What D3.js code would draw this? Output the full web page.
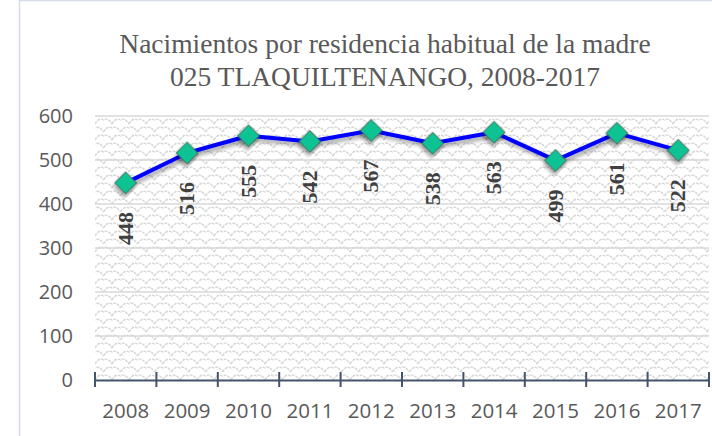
<!DOCTYPE html>
<html>
<head>
<meta charset="utf-8">
<script src="https://cdn.jsdelivr.net/npm/d3@7"></script>
<style>
  body { margin: 0; background: #fff; }
  svg { display: block; }
</style>
</head>
<body>
<svg id="chart"></svg>
<script>
const width = 712;
const height = 436;

// data
const years = ["2008", "2009", "2010", "2011", "2012", "2013", "2014", "2015", "2016", "2017"];
const births = [448, 516, 555, 542, 567, 538, 563, 499, 561, 522];
const yTicks = [0, 100, 200, 300, 400, 500, 600];
const titleLines = ["Nacimientos por residencia habitual de la madre", "025 TLAQUILTENANGO, 2008-2017"];

const plot = { left: 95, right: 709, top: 116, bottom: 380 };

const svg = d3.select("#chart")
  .attr("width", width)
  .attr("height", height)
  .attr("viewBox", [0, 0, width, height]);

const defs = svg.append("defs");

// scalloped background pattern
const pat = defs.append("pattern")
  .attr("id", "waves")
  .attr("patternUnits", "userSpaceOnUse")
  .attr("x", plot.left).attr("y", plot.top)
  .attr("width", 17)
  .attr("height", 16);
pat.append("path")
  .attr("d", "M0,8 Q4,1 8.5,4 Q13,1 17,8 M-8.5,16 Q-4,9 0,12 Q4,9 8.5,16 M8.5,16 Q13,9 17,12 Q21,9 25.5,16")
  .attr("fill", "none")
  .attr("stroke", "#d4d4d4")
  .attr("stroke-width", 1.4)
  .attr("stroke-dasharray", "3,1");

const shadow = defs.append("filter")
  .attr("id", "shadow")
  .attr("x", "-20%").attr("y", "-20%")
  .attr("width", "140%").attr("height", "160%");
shadow.append("feDropShadow")
  .attr("dx", 2).attr("dy", 3)
  .attr("stdDeviation", 2)
  .attr("flood-color", "#000")
  .attr("flood-opacity", 0.4);

// chart frame
svg.append("rect")
  .attr("x", 19.5).attr("y", 0.5)
  .attr("width", 800).attr("height", 600)
  .attr("fill", "#fff")
  .attr("stroke", "#d6dce5")
  .attr("stroke-width", 1.5);

// scales
const x = d3.scaleBand()
  .domain(years)
  .range([plot.left, plot.right]);

const y = d3.scaleLinear()
  .domain([0, 600])
  .range([plot.bottom, plot.top]);

// plot area background
svg.append("rect")
  .attr("x", plot.left)
  .attr("y", plot.top)
  .attr("width", plot.right - plot.left)
  .attr("height", plot.bottom - plot.top)
  .attr("fill", "url(#waves)");

// gridlines
svg.append("g")
  .selectAll("line")
  .data(yTicks.filter(d => d > 0))
  .join("line")
  .attr("x1", plot.left)
  .attr("x2", plot.right)
  .attr("y1", d => y(d))
  .attr("y2", d => y(d))
  .attr("stroke", "#d9d9d9")
  .attr("stroke-width", 1.5);

// y axis labels
const yAxis = svg.append("g")
  .attr("transform", `translate(${plot.left},0)`)
  .call(d3.axisLeft(y).tickValues(yTicks).tickSize(0).tickPadding(22));
yAxis.select(".domain").remove();
yAxis.selectAll("text")
  .attr("fill", "#595959")
  .style("font-family", "'Open Sans', sans-serif")
  .style("font-size", "20px");

// x axis
const xAxis = svg.append("g")
  .attr("transform", `translate(0,${plot.bottom})`)
  .call(d3.axisBottom(x).tickSize(0).tickPadding(23));
xAxis.select(".domain")
  .attr("stroke", "#44546a")
  .attr("stroke-width", 2);
xAxis.selectAll("text")
  .attr("fill", "#595959")
  .style("font-family", "'Open Sans', sans-serif")
  .style("font-size", "20.5px");

// category boundary ticks
const bounds = years.map(d => x(d)).concat([x(years[years.length - 1]) + x.bandwidth()]);
xAxis.append("g")
  .selectAll("line")
  .data(bounds)
  .join("line")
  .attr("x1", d => d).attr("x2", d => d)
  .attr("y1", -8).attr("y2", 7)
  .attr("stroke", "#44546a")
  .attr("stroke-width", 2);

// series
const pts = years.map((yr, i) => ({ year: yr, value: births[i] }));
const cx = d => x(d.year) + x.bandwidth() / 2;

const line = d3.line()
  .x(cx)
  .y(d => y(d.value));

svg.append("path")
  .datum(pts)
  .attr("fill", "none")
  .attr("stroke", "#0000ff")
  .attr("stroke-width", 4)
  .attr("stroke-linejoin", "round")
  .attr("filter", "url(#shadow)")
  .attr("d", line);

const diamond = d3.symbol().type(d3.symbolSquare).size(240);
svg.append("g")
  .selectAll("path")
  .data(pts)
  .join("path")
  .attr("d", diamond)
  .attr("transform", d => `translate(${cx(d)},${y(d.value)}) rotate(45)`)
  .attr("fill", "#0fc393")
  .attr("stroke", "#3d5a50")
  .attr("stroke-width", 0.8)
  .attr("filter", "url(#shadow)");

// data labels (rotated)
svg.append("g")
  .selectAll("text")
  .data(pts)
  .join("text")
  .attr("transform", d => `translate(${cx(d) + 7},${y(d.value) + 29}) rotate(-90)`)
  .attr("text-anchor", "end")
  .attr("fill", "#404040")
  .style("font-family", "'Liberation Serif', serif")
  .style("font-weight", "bold")
  .style("font-size", "22px")
  .text(d => d.value);

// title
svg.append("text")
  .attr("x", 385)
  .attr("y", 53)
  .attr("text-anchor", "middle")
  .attr("fill", "#595959")
  .style("font-family", "'Liberation Serif', serif")
  .style("font-size", "27.5px")
  .selectAll("tspan")
  .data(titleLines)
  .join("tspan")
  .attr("x", 385)
  .attr("dy", (d, i) => i === 0 ? 0 : 33)
  .text(d => d);
</script>
</body>
</html>
